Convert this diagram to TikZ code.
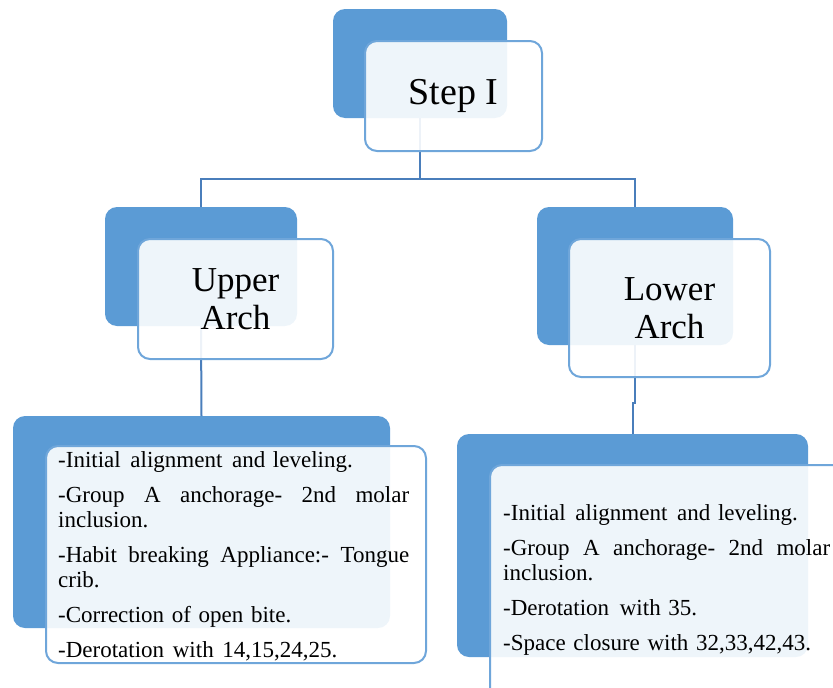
\documentclass[tikz,border=0pt]{standalone}
\usepackage{fontspec}
\setmainfont{Liberation Serif}
\definecolor{backblue}{HTML}{5B9BD5}
\definecolor{edgeblue}{HTML}{6FA6DA}
\definecolor{linkblue}{HTML}{4A7EBB}
\newcommand{\jline}[2]{\makebox[#1][l]{#2}}
\begin{document}
\begin{tikzpicture}[x=1pt,y=-1pt,
  backbox/.style={rectangle, rounded corners=12pt, fill=backblue, inner sep=0pt, outer sep=0pt, anchor=north west},
  frontbox/.style={rectangle, rounded corners=12pt, draw=edgeblue, line width=2pt, fill=white, fill opacity=0.9, text opacity=1, inner sep=0pt, anchor=north west, align=center},
  link/.style={draw=linkblue, line width=2pt},
  bigtext/.style={font=\fontsize{38}{42}\selectfont},
  midtext/.style={font=\fontsize{35}{38}\selectfont},
  listtext/.style={font=\fontsize{23}{25}\selectfont, align=left, inner sep=0pt, anchor=north west}]
\useasboundingbox (0,0) rectangle (833,688);
\clip (0,0) rectangle (833,688);
% back boxes
\node[backbox, minimum width=174pt, minimum height=109pt] (sb) at (333,9) {};
\node[backbox, minimum width=192pt, minimum height=119pt] (ub) at (105,207) {};
\node[backbox, minimum width=196pt, minimum height=138pt] (lb) at (537,207) {};
\node[backbox, minimum width=377pt, minimum height=212pt] (ulb) at (13,416) {};
\node[backbox, minimum width=351pt, minimum height=223pt] (lrb) at (457,434) {};
% connectors
\coordinate (hub) at (420,179);
\draw[link] (sb.south) -- (hub);
\draw[link] (ub.north) |- (hub) -| (lb.north);
\draw[link] (ub.south) -- (ulb.north);
\draw[link] (lb.south) -- ++(0,58) coordinate (jog) -| (lrb.north);
% front boxes
\node[frontbox, bigtext, minimum width=177pt, minimum height=110pt] (sf) at (364,40) {Step I};
\node[frontbox, midtext, minimum width=195pt, minimum height=120pt] (uf) at (137,238) {Upper\\Arch};
\node[frontbox, midtext, minimum width=201pt, minimum height=138pt] (lf) at (568,238) {Lower\\Arch};
\node[frontbox, minimum width=380pt, minimum height=217pt] (ulf) at (45,445) {};
\node[frontbox, minimum width=360pt, minimum height=240pt] (lrf) at (489,464) {};
% list texts
\node[listtext, text width=351pt] (ult) at (58,451) {-Initial\hspace{2pt} alignment\hspace{2pt} and leveling.\\[10pt]
\jline{351pt}{-Group\hfill A\hfill anchorage-\hfill 2nd\hfill molar}\\
inclusion.\\[10pt]
\jline{351pt}{-Habit\hfill breaking\hfill Appliance:-\hfill Tongue}\\
crib.\\[10pt]
-Correction of open bite.\\[10pt]
-Derotation\hspace{1pt} with\hspace{1pt} 14,15,24,25.};
\node[listtext, text width=327pt] (lrt) at (503,504) {-Initial\hspace{2pt} alignment\hspace{2pt} and leveling.\\[10pt]
\jline{327pt}{-Group\hfill A\hfill anchorage-\hfill 2nd\hfill molar}\\
inclusion.\\[10pt]
-Derotation\hspace{3pt} with 35.\\[10pt]
-Space closure with 32,33,42,43.};
\end{tikzpicture}
\end{document}
